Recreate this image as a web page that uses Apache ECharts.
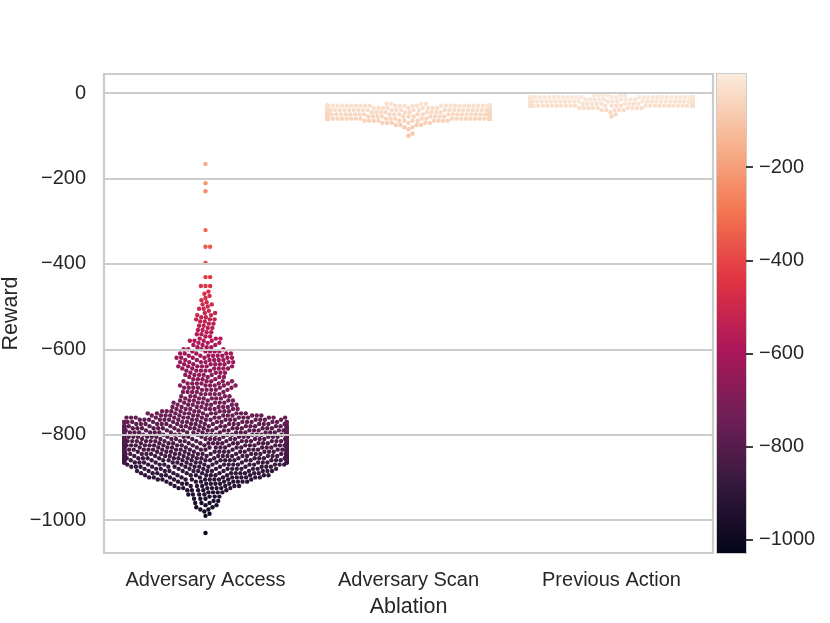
<!DOCTYPE html>
<html>
<head>
<meta charset="utf-8">
<script src="https://cdn.jsdelivr.net/npm/echarts@6/dist/echarts.min.js"></script>
<style>
  html, body { margin: 0; padding: 0; background: #fff; }
  #main { width: 830px; height: 623px; }
</style>
</head>
<body>
<div id="main"></div>
<script>
var categories = ['Adversary Access', 'Adversary Scan', 'Previous Action'];

// reward level (bin centre) and number of episodes at that level, per ablation
var accessReward = [
  -1030, -990, -985, -980, -975, -970, -965, -960, -955, -950,
  -945, -940, -935, -930, -925, -920, -915, -910, -905, -900,
  -895, -890, -885, -880, -875, -870, -865, -860, -855, -850,
  -845, -840, -835, -830, -825, -820, -815, -810, -805, -800,
  -795, -790, -785, -780, -775, -770, -765, -760, -755, -750,
  -745, -740, -735, -730, -725, -720, -715, -710, -705, -700,
  -695, -690, -685, -680, -675, -670, -665, -660, -655, -650,
  -645, -640, -635, -630, -625, -620, -615, -610, -605, -600,
  -595, -590, -585, -580, -575, -570, -565, -560, -555, -550,
  -545, -540, -535, -530, -525, -520, -515, -510, -505, -500,
  -495, -490, -485, -480, -475, -470, -465, -452, -431, -398,
  -360, -321, -230, -211, -166];
var accessCount = [
  1, 1, 1, 1, 2, 2, 2, 3, 2, 3,
  3, 4, 4, 5, 7, 7, 8, 9, 11, 12,
  13, 13, 14, 14, 15, 17, 20, 22, 23, 24,
  24, 24, 24, 24, 24, 23, 23, 23, 23, 22,
  22, 21, 21, 20, 19, 19, 18, 16, 14, 11,
  9, 8, 7, 7, 7, 6, 6, 5, 5, 5,
  5, 6, 6, 6, 5, 4, 4, 5, 4, 5,
  6, 6, 6, 6, 6, 6, 6, 5, 5, 4,
  3, 3, 3, 4, 3, 2, 2, 2, 2, 2,
  2, 2, 2, 3, 2, 2, 2, 1, 2, 1,
  2, 1, 1, 1, 1, 1, 1, 3, 2, 1,
  2, 1, 1, 1, 1];

var scanReward = [-25, -30, -35, -40, -45, -50, -55, -60, -65, -70, -75, -80, -85, -95, -100];
var scanCount = [4, 60, 120, 150, 160, 150, 120, 70, 12, 6, 4, 2, 1, 1, 1];

var prevReward = [-5, -10, -15, -20, -25, -30, -35, -40, -45, -50, -55];
var prevCount = [6, 120, 230, 240, 180, 40, 9, 5, 1, 1, 1];

var yTicks = [0, -200, -400, -600, -800, -1000];
var cbarTicks = [-200, -400, -600, -800, -1000];

// seaborn "rocket"
var rocket = ['#03051a', '#35193e', '#701f57', '#ad1759', '#e13342', '#f37651', '#f6b48f', '#faebdd'];
var hueMin = -1028, hueMax = 0;
var yMin = -1077, yMax = 44.5;

var G = { left: 104, top: 74, width: 609, height: 479 };
var DOT = 4.4;
var pxPerCat = G.width / categories.length;
var pxPerUnit = G.height / (yMax - yMin);

function expand(rewards, counts) {
  var out = [];
  for (var i = 0; i < rewards.length; i++) {
    for (var k = 0; k < counts[i]; k++) out.push(rewards[i]);
  }
  return out;
}

// beeswarm like seaborn: place from the bottom up, nearest free spot to the midline
function swarm(values) {
  var d = DOT, d2 = d * d;
  var pts = values.map(function (v, i) { return { y: v * pxPerUnit, i: i }; });
  pts.sort(function (a, b) { return a.y - b.y; });
  var placed = [];
  var offs = new Array(values.length);
  pts.forEach(function (p) {
    var nb = [];
    for (var k = placed.length - 1; k >= 0; k--) {
      if (p.y - placed[k].y < d) nb.push(placed[k]); else break;
    }
    nb.sort(function (a, b) { return a.x - b.x; });
    var cands = [0];
    nb.forEach(function (q) {
      var dy = p.y - q.y;
      var dx = Math.sqrt(Math.max(d2 - dy * dy, 0)) * 1.05;
      cands.push(q.x + dx, q.x - dx);
    });
    cands.sort(function (a, b) { return Math.abs(a) - Math.abs(b); });
    var x = cands[cands.length - 1];
    for (var c = 0; c < cands.length; c++) {
      var cx = cands[c];
      var lo = 0, hi = nb.length;
      while (lo < hi) {
        var mid = (lo + hi) >> 1;
        if (nb[mid].x < cx - d) lo = mid + 1; else hi = mid;
      }
      var ok = true;
      for (var j = lo; j < nb.length && nb[j].x <= cx + d; j++) {
        var ddx = cx - nb[j].x, ddy = p.y - nb[j].y;
        if (ddx * ddx + ddy * ddy < d2 - 1e-6) { ok = false; break; }
      }
      if (ok) { x = cx; break; }
    }
    placed.push({ x: x, y: p.y });
    offs[p.i] = x;
  });
  return offs;
}

function swarmData(ci, values) {
  var offs = swarm(values);
  var half = 0.4 * pxPerCat;
  return values.map(function (v, i) {
    var dx = Math.max(-half, Math.min(half, offs[i]));
    return [ci + dx / pxPerCat, v];
  });
}

function fmt(v) {
  return v < 0 ? '\u2212' + Math.abs(v) : String(v);
}

var groups = [
  expand(accessReward, accessCount),
  expand(scanReward, scanCount),
  expand(prevReward, prevCount)
];

var textColor = '#262626';
var font = 'Liberation Sans, Arial, sans-serif';

var scatterSeries = groups.map(function (vals, ci) {
  return {
    type: 'scatter',
    name: categories[ci],
    xAxisIndex: 1,
    yAxisIndex: 0,
    symbolSize: DOT,
    z: 3,
    progressive: 0,
    itemStyle: { opacity: 1 },
    data: swarmData(ci, vals)
  };
});

var myChart = echarts.init(document.getElementById('main'));
myChart.setOption({
  animation: false,
  backgroundColor: '#ffffff',
  textStyle: { fontFamily: font },
  grid: [
    { left: G.left, top: G.top, width: G.width, height: G.height, show: true,
      outerBoundsMode: 'none', containLabel: false,
      borderColor: '#cccccc', borderWidth: 2.2, backgroundColor: 'transparent' },
    { left: 717, top: G.top, width: 29, height: G.height, show: true,
      outerBoundsMode: 'none', containLabel: false,
      borderColor: '#cccccc', borderWidth: 2, backgroundColor: 'transparent' }
  ],
  xAxis: [
    { type: 'category', gridIndex: 0, data: categories,
      axisLine: { show: false }, axisTick: { show: false }, splitLine: { show: false },
      axisLabel: { interval: 0, fontSize: 20, color: textColor, margin: 17, fontFamily: font },
      name: 'Ablation', nameLocation: 'middle', nameGap: 43, nameMoveOverlap: false,
      nameTextStyle: { fontSize: 21.5, color: textColor, fontFamily: font } },
    { type: 'value', gridIndex: 0, min: -0.5, max: 2.5, show: false },
    { type: 'category', gridIndex: 1, data: ['bar'], show: false }
  ],
  yAxis: [
    { type: 'value', gridIndex: 0, min: yMin, max: yMax,
      axisLine: { show: false }, axisTick: { show: false }, splitLine: { show: false },
      axisLabel: { customValues: yTicks, formatter: fmt, fontSize: 20, color: textColor, margin: 18, fontFamily: font },
      name: 'Reward', nameLocation: 'middle', nameGap: 82, nameMoveOverlap: false,
      nameTextStyle: { fontSize: 21.5, color: textColor, fontFamily: font } },
    { type: 'value', gridIndex: 1, position: 'right', min: hueMin, max: hueMax,
      axisLine: { show: false }, splitLine: { show: false },
      axisTick: { show: true, customValues: cbarTicks, length: 7, lineStyle: { color: textColor, width: 1.8 } },
      axisLabel: { customValues: cbarTicks, formatter: fmt, fontSize: 20, color: textColor, margin: 13, fontFamily: font } }
  ],
  visualMap: {
    type: 'continuous', show: false, seriesIndex: [1, 2, 3], dimension: 1,
    min: hueMin, max: hueMax, inRange: { color: rocket }
  },
  series: [
    { type: 'line', xAxisIndex: 1, yAxisIndex: 0, data: [], silent: true, z: 1,
      markLine: { symbol: 'none', silent: true, animation: false, label: { show: false },
        lineStyle: { color: '#cccccc', width: 1.8, type: 'solid' },
        data: yTicks.map(function (v) { return { yAxis: v }; }) } }
  ].concat(scatterSeries).concat([
    { type: 'custom', xAxisIndex: 2, yAxisIndex: 1, data: [[0, hueMax]], silent: true, z: 1,
      renderItem: function (params, api) {
        var cs = params.coordSys;
        var stops = rocket.slice().reverse().map(function (c, i, a) {
          return { offset: i / (a.length - 1), color: c };
        });
        return {
          type: 'rect',
          shape: { x: cs.x, y: cs.y, width: cs.width, height: cs.height },
          style: { fill: { type: 'linear', x: 0, y: 0, x2: 0, y2: 1, colorStops: stops } }
        };
      } }
  ])
});
</script>
</body>
</html>
